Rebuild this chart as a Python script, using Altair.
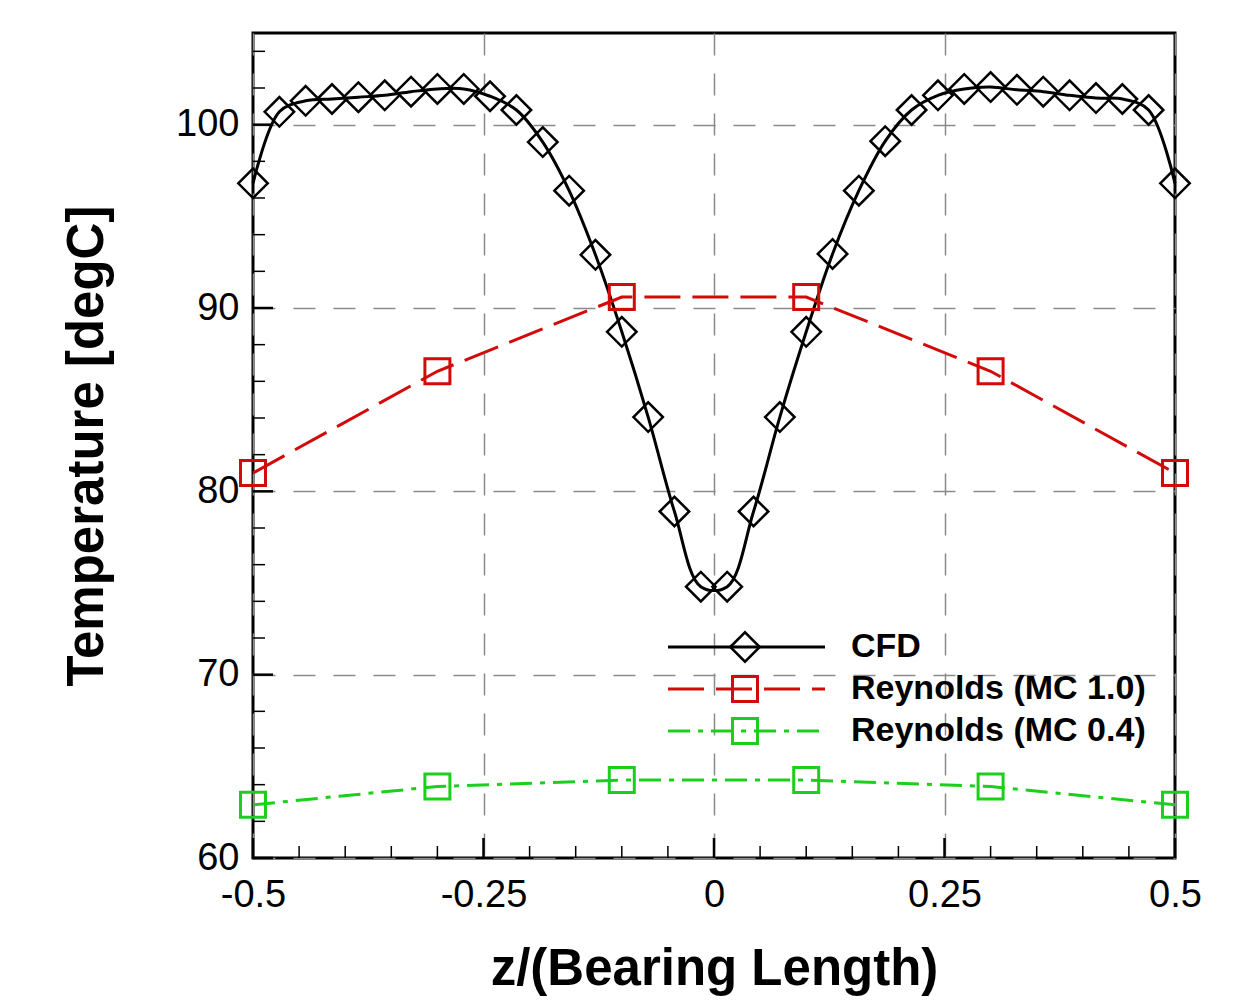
import altair as alt
import pandas as pd

# ---------------- data ----------------
cfd_z = [-0.5, -0.4714, -0.4429, -0.4143, -0.3857, -0.3571, -0.3286, -0.3,
         -0.2714, -0.2429, -0.2143, -0.1857, -0.1571, -0.1286, -0.1, -0.0714,
         -0.0429, -0.0143, 0.0143, 0.0429, 0.0714, 0.1, 0.1286, 0.1571,
         0.1857, 0.2143, 0.2429, 0.2714, 0.3, 0.3286, 0.3571, 0.3857,
         0.4143, 0.4429, 0.4714, 0.5]
cfd_t = [96.8, 100.7, 101.3, 101.4, 101.5, 101.6, 101.8, 101.95,
         101.95, 101.55, 100.8, 99.05, 96.4, 92.9, 88.7, 84.05,
         78.9, 74.8, 74.8, 78.9, 84.05, 88.7, 92.95, 96.4,
         99.1, 100.8, 101.6, 101.95, 102.05, 101.9, 101.8, 101.6,
         101.45, 101.4, 100.8, 96.8]

rey_z = [-0.5, -0.3, -0.1, 0.1, 0.3, 0.5]
rey10_t = [81.0, 86.55, 90.6, 90.6, 86.55, 81.0]
rey04_t = [62.9, 63.9, 64.25, 64.25, 63.9, 62.9]

x_major = [-0.5, -0.25, 0, 0.25, 0.5]
x_minor = [-0.45, -0.4, -0.35, -0.3, -0.2, -0.15, -0.1, -0.05,
           0.05, 0.1, 0.15, 0.2, 0.3, 0.35, 0.4, 0.45]
y_major = [60, 70, 80, 90, 100]
y_minor = [62, 64, 66, 68, 72, 74, 76, 78, 82, 84, 86, 88, 92, 94, 96, 98, 102, 104]

legend_labels = ["CFD", "Reynolds (MC 1.0)", "Reynolds (MC 0.4)"]

BLACK = "#000000"
RED = "#d20a0a"
GREEN = "#1ccf1c"
FONT = "Liberation Sans"

W, H = 922, 825

xs = alt.Scale(domain=[-0.5, 0.5], nice=False, zero=False)
ys = alt.Scale(domain=[60, 105], nice=False, zero=False)

cfd_df = pd.DataFrame({"z": cfd_z, "t": cfd_t})
r10_df = pd.DataFrame({"z": rey_z, "t": rey10_t})
r04_df = pd.DataFrame({"z": rey_z, "t": rey04_t})

x_axis = alt.Axis(values=x_major, labelExpr="toString(datum.value)",
                  labelFont=FONT, labelFontSize=38, labelColor="black",
                  labelPadding=18, labelFlush=False, labelOverlap=False,
                  ticks=False, domain=False, grid=True,
                  gridDash=[22, 18], gridColor="#8a8a8a", gridWidth=1.5,
                  title="z/(Bearing Length)", titleFont=FONT,
                  titleFontSize=51, titleFontWeight="bold", titleColor="black",
                  titlePadding=30)
y_axis = alt.Axis(values=y_major, labelFont=FONT, labelFontSize=38,
                  labelColor="black", labelPadding=14, labelFlush=False,
                  labelOverlap=False, ticks=False, domain=False, grid=True,
                  gridDash=[22, 18], gridColor="#8a8a8a", gridWidth=1.5,
                  title="Temperature [degC]", titleFont=FONT,
                  titleFontSize=51, titleFontWeight="bold", titleColor="black",
                  titlePadding=62)

X = alt.X("z:Q", scale=xs, axis=x_axis)
Y = alt.Y("t:Q", scale=ys, axis=y_axis)

# CFD
cfd_line = alt.Chart(cfd_df).mark_line(
    color=BLACK, strokeWidth=3, interpolate="catmull-rom"
).encode(x=X, y=Y)
cfd_pts = alt.Chart(cfd_df).mark_point(
    shape="diamond", size=870, filled=False, color=BLACK, strokeWidth=2.5, opacity=1
).encode(x=X, y=Y)

# Reynolds MC 1.0
r10_line = alt.Chart(r10_df).mark_line(
    color=RED, strokeWidth=3, strokeDash=[36, 12]
).encode(x=X, y=Y)
r10_pts = alt.Chart(r10_df).mark_point(
    shape="square", size=625, filled=False, color=RED, strokeWidth=3, opacity=1
).encode(x=X, y=Y)

# Reynolds MC 0.4
r04_line = alt.Chart(r04_df).mark_line(
    color=GREEN, strokeWidth=3, strokeDash=[22, 8, 5, 8]
).encode(x=X, y=Y)
r04_pts = alt.Chart(r04_df).mark_point(
    shape="square", size=625, filled=False, color=GREEN, strokeWidth=3, opacity=1
).encode(x=X, y=Y)

# inward ticks
xmaj = alt.Chart(pd.DataFrame({"z": x_major})).mark_rule(color=BLACK, strokeWidth=2.5).encode(
    x=X, y=alt.value(H), y2=alt.value(H - 20))
xmin = alt.Chart(pd.DataFrame({"z": x_minor})).mark_rule(color=BLACK, strokeWidth=1.5).encode(
    x=X, y=alt.value(H), y2=alt.value(H - 12))
ymaj = alt.Chart(pd.DataFrame({"t": y_major})).mark_rule(color=BLACK, strokeWidth=2.5).encode(
    y=Y, x=alt.value(0), x2=alt.value(20))
ymin = alt.Chart(pd.DataFrame({"t": y_minor})).mark_rule(color=BLACK, strokeWidth=1.5).encode(
    y=Y, x=alt.value(0), x2=alt.value(12))

# legend (manual, inside plot)
one = pd.DataFrame({"a": [0]})
leg_rows = [614, 656, 698]
leg_x0, leg_x1, leg_mx, leg_tx = 415, 572, 492, 598
leg_specs = [
    (BLACK, None, "diamond", 870, 2.5),
    (RED, [36, 12], "square", 625, 3),
    (GREEN, [22, 8, 5, 8], "square", 625, 3),
]
legend_layers = []
for (col, dash, shp, sz, sw), ly, lab in zip(leg_specs, leg_rows, legend_labels):
    kw = dict(color=col, strokeWidth=3)
    if dash:
        kw["strokeDash"] = dash
    legend_layers.append(alt.Chart(one).mark_rule(**kw).encode(
        x=alt.value(leg_x0), x2=alt.value(leg_x1), y=alt.value(ly)))
    legend_layers.append(alt.Chart(one).mark_point(
        shape=shp, size=sz, filled=False, color=col, strokeWidth=sw, opacity=1
    ).encode(x=alt.value(leg_mx), y=alt.value(ly)))
    legend_layers.append(alt.Chart(one).mark_text(
        align="left", baseline="middle", font=FONT, fontSize=34,
        fontWeight="bold", color="black"
    ).encode(x=alt.value(leg_tx), y=alt.value(ly), text=alt.value(lab)))

chart = alt.layer(
    cfd_line, xmaj, xmin, ymaj, ymin,
    r10_line, r04_line, cfd_pts, r10_pts, r04_pts,
    *legend_layers
).properties(
    width=W, height=H,
    autosize=alt.AutoSizeParams(type="none"),
    padding={"left": 245, "top": 25, "right": 50, "bottom": 142},
    background="white",
).configure_view(
    stroke="black", strokeWidth=3
)

chart.save("out.html", embed_options={"renderer": "svg", "actions": False})
